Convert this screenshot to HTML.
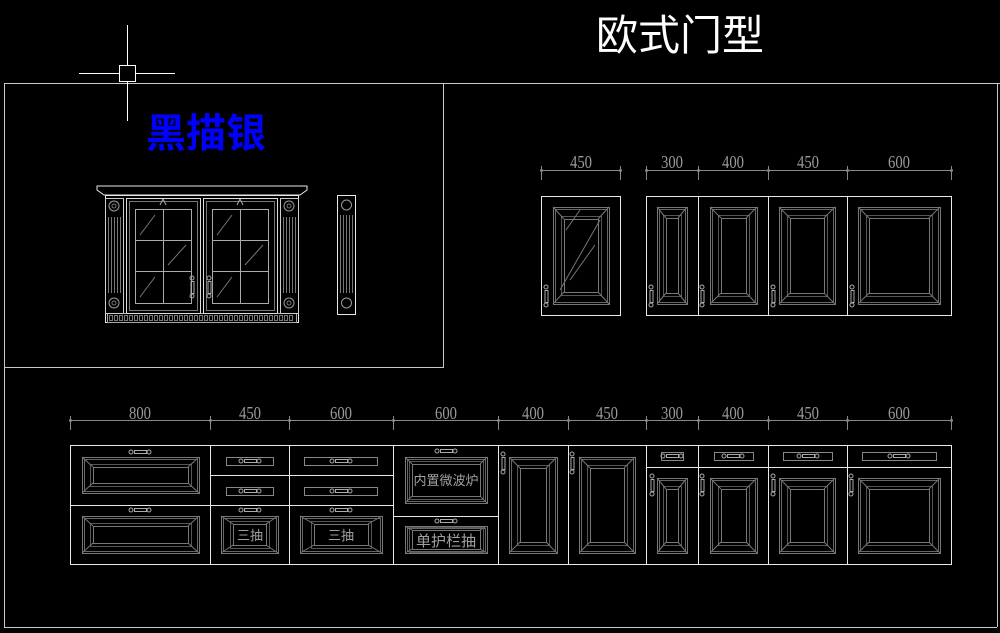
<!DOCTYPE html>
<html><head><meta charset="utf-8"><style>
html,body{margin:0;padding:0;background:#000;width:1000px;height:633px;overflow:hidden}
svg{display:block}
.t{font-family:"Liberation Serif","Noto Serif CJK SC",serif;fill:#9a9a9a;font-size:18px;text-anchor:middle}
.c{font-family:"Liberation Sans","Noto Sans CJK SC",sans-serif;fill:#a0a0a0;text-anchor:middle}
</style></head><body>
<svg id="s" width="1000" height="633" viewBox="0 0 1000 633" xmlns="http://www.w3.org/2000/svg">
<g fill="none" stroke="#c8c8c8" stroke-width="1">
<path d="M4 83.5H1000M4.5 83V627.5H997M443.5 83.5V367.5H4.5M997.5 83V627"/>
</g>
<g fill="none" stroke="#fff" stroke-width="1">
<rect x="119.5" y="65.5" width="16" height="16"/>
<path d="M79 73.5H119M136 73.5H175M127.5 25V65M127.5 82V121"/>
</g>
<text x="680" y="50" font-family="'Noto Sans CJK SC',sans-serif" font-size="42" fill="#fff" text-anchor="middle">欧式门型</text>
<text x="206" y="147" font-family="'Noto Sans CJK SC',sans-serif" font-weight="bold" font-size="40" fill="#0000ff" text-anchor="middle">黑描银</text>
<g id="g" fill="none" stroke="#888" stroke-width="1"></g>
<g class="t">
<text x="581" y="168" textLength="22" lengthAdjust="spacingAndGlyphs">450</text>
<text x="672" y="168" textLength="22" lengthAdjust="spacingAndGlyphs">300</text>
<text x="733" y="168" textLength="22" lengthAdjust="spacingAndGlyphs">400</text>
<text x="808" y="168" textLength="22" lengthAdjust="spacingAndGlyphs">450</text>
<text x="899" y="168" textLength="22" lengthAdjust="spacingAndGlyphs">600</text>
<text x="140" y="419" textLength="22" lengthAdjust="spacingAndGlyphs">800</text>
<text x="250" y="419" textLength="22" lengthAdjust="spacingAndGlyphs">450</text>
<text x="341" y="419" textLength="22" lengthAdjust="spacingAndGlyphs">600</text>
<text x="446" y="419" textLength="22" lengthAdjust="spacingAndGlyphs">600</text>
<text x="533" y="419" textLength="22" lengthAdjust="spacingAndGlyphs">400</text>
<text x="607" y="419" textLength="22" lengthAdjust="spacingAndGlyphs">450</text>
<text x="672" y="419" textLength="22" lengthAdjust="spacingAndGlyphs">300</text>
<text x="733" y="419" textLength="22" lengthAdjust="spacingAndGlyphs">400</text>
<text x="808" y="419" textLength="22" lengthAdjust="spacingAndGlyphs">450</text>
<text x="899" y="419" textLength="22" lengthAdjust="spacingAndGlyphs">600</text>
</g>
<text class="c" x="250" y="540" font-size="13">三抽</text>
<text class="c" x="341" y="540" font-size="13">三抽</text>
<text class="c" x="446" y="485" font-size="13">内置微波炉</text>
<text class="c" x="446" y="546" font-size="15">单护栏抽</text>
</svg>
<script>
var g=document.getElementById('g'),NS='http://www.w3.org/2000/svg';
function el(t,a){var e=document.createElementNS(NS,t);for(var k in a)e.setAttribute(k,a[k]);g.appendChild(e);return e}
function L(x1,y1,x2,y2,c){el('line',{x1:x1,y1:y1,x2:x2,y2:y2,stroke:c||'#888'})}
function R(x,y,w,h,c){el('rect',{x:x+.5,y:y+.5,width:w,height:h,stroke:c||'#888'})}
function P(x1,y1,x2,y2,bx,by){var w=x2-x1,h=y2-y1;R(x1,y1,w,h,'#777');R(x1+2,y1+2,w-4,h-4,'#666');
 R(x1+bx,y1+by,w-2*bx,h-2*by,'#777');R(x1+bx-3,y1+by-3,w-2*bx+6,h-2*by+6,'#555');
 L(x1,y1,x1+bx,y1+by,'#777');L(x2,y1,x2-bx,y1+by,'#777');L(x1,y2,x1+bx,y2-by,'#777');L(x2,y2,x2-bx,y2-by,'#777')}
function HH(cx,cy){el('circle',{cx:cx-9,cy:cy,r:2,stroke:'#aaa'});el('circle',{cx:cx+9,cy:cy,r:2,stroke:'#aaa'});R(cx-6,cy-2,12,3,'#aaa')}
function VH(cx,cy){el('circle',{cx:cx,cy:cy-9,r:2,stroke:'#aaa'});el('circle',{cx:cx,cy:cy+9,r:2,stroke:'#aaa'});R(cx-1.5,cy-6,3,12,'#aaa')}
function dim(y,xs){L(xs[0],y+.5,xs[xs.length-1],y+.5,'#888');xs.forEach(function(x){L(x+.5,y-4,x+.5,y+10,'#888');el('circle',{cx:x+.5,cy:y+.5,r:1.5,fill:'#888',stroke:'none'})})}
var W='#e8e8e8';
dim(170,[541,620]);dim(170,[646,698,768,847,951]);
R(541,196,79,119,W);R(646,196,305,119,W);[698,768,847].forEach(function(x){L(x+.5,196,x+.5,315,W)});
P(553,207,609,304,11,12);L(560,290,600,220,'#777');L(570,280,595,245,'#777');L(566,230,580,210,'#777');
P(657,207,687,304,9,11);P(710,207,757,304,11,11);P(779,207,835,304,11,11);P(858,207,940,304,11,11);
[546,651,702,773,852].forEach(function(x){VH(x,296)});
dim(420,[70,210,289,393,498,568,646,698,768,847,951]);
R(70,445,881,119,W);[210,289,393,498,568,646,698,768,847].forEach(function(x){L(x+.5,445,x+.5,564,W)});
L(70,505.5,393,505.5,W);L(210,475.5,393,475.5,W);L(393,516.5,498,516.5,W);L(646,467.5,951,467.5,W);
P(82,457,199,493,11,10);P(82,516,199,553,11,10);HH(140,452);HH(140,510);
R(226,457,47,8);R(226,487,47,8);R(304,457,73,8);R(304,487,73,8);HH(250,461);HH(250,491);HH(341,461);HH(341,491);
P(221,516,278,553,12,8);P(300,516,382,553,14,8);HH(250,510);HH(341,510);
P(405,457,487,503,7,7);P(405,526,487,553,7,4);HH(446,451);HH(446,521);
P(509,457,557,553,11,11);P(579,457,635,553,11,11);VH(503,463);VH(572,463);
R(661,452,22,8);R(714,452,39,8);R(783,452,49,8);R(862,452,74,8);HH(672,456);HH(733,456);HH(808,456);HH(899,456);
P(657,478,687,553,9,11);P(710,478,757,553,11,11);P(779,478,835,553,11,11);P(858,478,940,553,11,11);
[652,702,773,851].forEach(function(x){VH(x,485)});
el('path',{d:'M97 186H307V190L300 195H104L97 190Z',stroke:W});
R(105,195,193,127,W);R(107,313,189,9,'#aaa');
for(var x=109;x<294;x+=5)R(x,315,3,5,'#777');
[[105,123],[280,298]].forEach(function(p){R(p[0],198,p[1]-p[0],115,'#ccc');
 var cx=(p[0]+p[1])/2;[206,303].forEach(function(cy){el('circle',{cx:cx,cy:cy,r:5,stroke:'#999'});el('circle',{cx:cx,cy:cy,r:2,stroke:'#777'})});
 for(var i=p[0]+3;i<p[1]-2;i+=3)L(i+.5,217,i+.5,293,'#777')});
[[126,200],[203,277]].forEach(function(d){R(d[0],198,d[1]-d[0],115,'#ddd');R(d[0]+3,201,d[1]-d[0]-6,109,'#777');
 var gx=d[0]+9,gw=d[1]-d[0]-18;R(gx,209,gw,94,'#aaa');L(gx+gw/2+.5,209,gx+gw/2+.5,303,'#aaa');L(gx,240.5,gx+gw,240.5,'#aaa');L(gx,271.5,gx+gw,271.5,'#aaa');
 L(gx+5,235,gx+20,215,'#777');L(gx+gw/2+5,265,gx+gw-5,245,'#777');L(gx+5,297,gx+20,277,'#777');
 var cx=(d[0]+d[1])/2;L(cx-3,205,cx,199,'#aaa');L(cx+3,205,cx,199,'#aaa')});
VH(192,287);VH(209,287);
R(337,195,18,119,W);[205,303].forEach(function(cy){el('circle',{cx:346.5,cy:cy,r:5,stroke:'#999'})});
for(var i=340;i<353;i+=3)L(i+.5,215,i+.5,293,'#777');
</script>
</body></html>
